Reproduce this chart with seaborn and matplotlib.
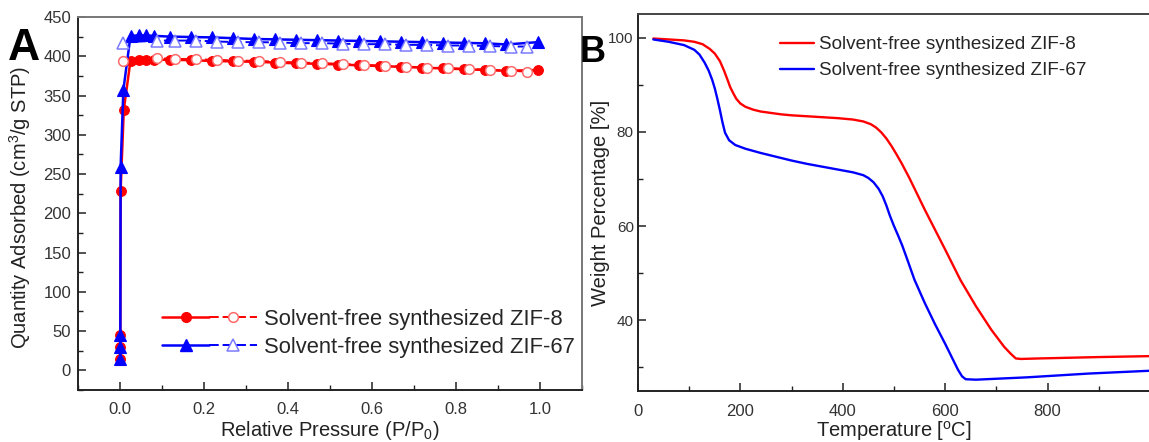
import numpy as np
import pandas as pd
import matplotlib
matplotlib.use("Agg")
import matplotlib.pyplot as plt
from matplotlib.lines import Line2D
from matplotlib.legend_handler import HandlerTuple
from matplotlib.ticker import MultipleLocator, FixedLocator
import seaborn as sns

# ---------------- N2 isotherms (panel A) ----------------
zif8_ads_p = [0.0004, 0.0006, 0.0008, 0.0015, 0.009, 0.025, 0.045, 0.063, 0.08, 0.12, 0.17,
              0.22, 0.27, 0.32, 0.37, 0.42, 0.47, 0.52, 0.57, 0.62, 0.67, 0.72, 0.77, 0.82,
              0.87, 0.92, 0.995]
zif8_ads_q = [15, 30, 45, 229, 332, 394.5, 395, 395, 395.5, 395.5, 395,
              394, 393.5, 393, 392, 391, 390.5, 389.5, 388.5, 387.5, 386.5, 385.5, 384.5, 383.5,
              382.5, 381.5, 382.5]
zif8_des_p = [0.97, 0.93, 0.88, 0.83, 0.78, 0.73, 0.68, 0.63, 0.58, 0.53, 0.48, 0.43, 0.38,
              0.33, 0.28, 0.23, 0.18, 0.13, 0.087, 0.006]
zif8_des_q = [380.5, 381.4, 382.7, 383.9, 384.8, 385.6, 386.9, 388.1, 389.0, 390.3, 391.2, 392.0,
              392.9, 394.1, 394.6, 395.4, 396.2, 396.7, 397.5, 394.5]

zif67_ads_p = [0.0004, 0.0006, 0.0008, 0.0015, 0.008, 0.025, 0.045, 0.063, 0.08, 0.12, 0.17,
               0.22, 0.27, 0.32, 0.37, 0.42, 0.47, 0.52, 0.57, 0.62, 0.67, 0.72, 0.77, 0.82,
               0.87, 0.92, 0.995]
zif67_ads_q = [15, 30, 45, 259, 357, 426, 426.5, 426.5, 426, 425, 424.5,
               424, 423, 422, 421.5, 421, 420.5, 420, 419.5, 419, 418.5, 418, 417.5, 417,
               416.5, 415, 418]
zif67_des_p = [0.97, 0.93, 0.88, 0.83, 0.78, 0.73, 0.68, 0.63, 0.58, 0.53, 0.48, 0.43, 0.38,
               0.33, 0.28, 0.23, 0.18, 0.13, 0.087, 0.006]
zif67_des_q = [412.4, 412.4, 413.0, 413.7, 413.7, 414.5, 414.5, 415.4, 415.4, 416.0, 416.7, 416.7,
               417.5, 418.0, 418.0, 418.8, 420.0, 420.0, 420.0, 417.5]

# ---------------- TGA (panel B) ----------------
zif8_tga_t = [30, 60, 90, 110, 126, 140, 150, 160, 168, 175, 180, 186, 192, 200, 210, 225, 240,
              260, 280, 300, 330, 360, 390, 420, 440, 455, 465, 475, 485, 495, 505, 515, 530,
              560, 600, 630, 660, 690, 715, 728, 738, 748, 780, 820, 860, 900, 950, 1000]
zif8_tga_w = [99.8, 99.6, 99.4, 99.1, 98.6, 97.6, 96.6, 95.0, 93.0, 91.0, 89.5, 88.2, 87.0, 86.0,
              85.3, 84.7, 84.3, 84.0, 83.7, 83.5, 83.3, 83.1, 82.9, 82.6, 82.2, 81.6, 80.9, 79.9,
              78.6, 77.0, 75.2, 73.3, 70.2, 63.5, 55.0, 48.5, 43.0, 38.0, 34.4, 32.9, 31.9, 31.8,
              31.9, 32.0, 32.1, 32.2, 32.3, 32.4]
zif67_tga_t = [30, 60, 90, 110, 120, 130, 138, 145, 150, 155, 160, 165, 170, 178, 190, 210, 240,
               270, 300, 330, 360, 390, 420, 440, 450, 460, 470, 478, 485, 492, 500, 508, 516,
               525, 540, 560, 580, 600, 615, 625, 633, 640, 660, 700, 760, 820, 880, 940, 1000]
zif67_tga_w = [99.6, 99.1, 98.4, 97.4, 96.4, 94.7, 93.0, 91.0, 89.2, 87.0, 84.6, 82.0, 79.8, 78.2,
               77.2, 76.4, 75.5, 74.7, 73.9, 73.2, 72.6, 72.0, 71.4, 70.8, 70.2, 69.3, 67.9, 66.3,
               64.4, 62.2, 60.0, 58.0, 55.9, 53.2, 48.6, 43.7, 39.2, 35.0, 31.7, 29.5, 28.1, 27.5,
               27.4, 27.6, 27.9, 28.3, 28.7, 29.0, 29.3]

labels = ["Solvent-free synthesized ZIF-8", "Solvent-free synthesized ZIF-67"]
RED, BLUE = "#ff0000", "#0000ff"
RED_OPEN, BLUE_OPEN = "#ff6a6a", "#7a7aff"

sns.set_theme(style="ticks")
plt.rcParams["font.family"] = ["Liberation Sans", "DejaVu Sans"]
plt.rcParams["mathtext.fontset"] = "custom"
plt.rcParams["mathtext.rm"] = "Liberation Sans"
plt.rcParams["mathtext.it"] = "Liberation Sans:italic"

W, H = 1149, 442
fig = plt.figure(figsize=(W / 100, H / 100), dpi=100)
axA = fig.add_axes([78 / W, 1 - 390 / H, (582 - 78) / W, (390 - 17) / H])
axB = fig.add_axes([638 / W, 1 - 391 / H, (1150 - 638) / W, (391 - 14) / H])

TICK_FS = 12
LABEL_FS = 14.5


def style_axes(ax, spine_dark="#222222", spine_light="#777777", light_sides=("top", "right"),
               ypad=5, ysize=TICK_FS):
    for side, sp in ax.spines.items():
        sp.set_linewidth(1.4)
        sp.set_color(spine_light if side in light_sides else spine_dark)
    ax.tick_params(which="both", direction="in", top=False, right=False,
                   labelsize=TICK_FS, colors="#222222", labelcolor="#333333")
    ax.tick_params(which="major", length=6, width=1.1)
    ax.tick_params(which="minor", length=3.5, width=1.0)
    ax.tick_params(axis="x", which="major", pad=9)
    ax.tick_params(axis="y", which="major", pad=ypad, labelsize=ysize)


# ---------- Panel A ----------
def draw_iso(ax, ads_p, ads_q, des_p, des_q, color, open_edge, marker, ms):
    ads = pd.DataFrame({"p": ads_p, "q": ads_q})
    des = pd.DataFrame({"p": des_p, "q": des_q})
    sns.lineplot(data=ads, x="p", y="q", sort=False, estimator=None, ax=ax, color=color,
                 linewidth=1.8, marker=marker, markersize=ms, markerfacecolor=color,
                 markeredgecolor=color, markeredgewidth=0.8, zorder=3)
    sns.lineplot(data=des, x="p", y="q", sort=False, estimator=None, ax=ax, color=color,
                 linewidth=1.4, linestyle=(0, (5, 2)), marker=marker, markersize=ms,
                 markerfacecolor="white", markeredgecolor=open_edge, markeredgewidth=1.1,
                 zorder=4)


draw_iso(axA, zif8_ads_p, zif8_ads_q, zif8_des_p, zif8_des_q, RED, RED_OPEN, "o", 7)
draw_iso(axA, zif67_ads_p, zif67_ads_q, zif67_des_p, zif67_des_q, BLUE, BLUE_OPEN, "^", 8)

axA.set_xlim(-0.1, 1.1)
axA.set_ylim(-25, 450)
axA.xaxis.set_major_locator(FixedLocator([0.0, 0.2, 0.4, 0.6, 0.8, 1.0]))
axA.xaxis.set_minor_locator(MultipleLocator(0.1))
axA.yaxis.set_major_locator(MultipleLocator(50))
axA.yaxis.set_minor_locator(MultipleLocator(25))
axA.set_xticklabels(["0.0", "0.2", "0.4", "0.6", "0.8", "1.0"])
axA.set_xlabel("Relative Pressure (P/P$_0$)", fontsize=LABEL_FS, color="#222222")
axA.set_ylabel("Quantity Adsorbed (cm$^3$/g STP)", fontsize=LABEL_FS, color="#222222")
axA.xaxis.set_label_coords(0.5, -0.108)
axA.yaxis.set_label_coords(-0.115, 0.49)
axA.xaxis.label.set_va("center")
axA.yaxis.label.set_va("center")
style_axes(axA, ypad=5)

handles_A = [
    (Line2D([], [], color=RED, lw=1.8, marker="o", ms=7, mfc=RED, mec=RED),
     Line2D([], [], color=RED, lw=1.4, ls=(0, (5, 2)), marker="o", ms=7, mfc="white",
            mec=RED_OPEN, mew=1.1)),
    (Line2D([], [], color=BLUE, lw=1.8, marker="^", ms=8, mfc=BLUE, mec=BLUE),
     Line2D([], [], color=BLUE, lw=1.4, ls=(0, (5, 2)), marker="^", ms=8, mfc="white",
            mec=BLUE_OPEN, mew=1.1)),
]
axA.legend(handles_A, labels, handler_map={tuple: HandlerTuple(ndivide=None, pad=0.0)},
           loc="center left", bbox_to_anchor=(0.167, 0.152), frameon=False,
           fontsize=15.8, handlelength=4.3, handletextpad=0.35, labelspacing=0.3,
           borderpad=0, borderaxespad=0)

# ---------- Panel B ----------
tga = pd.concat([
    pd.DataFrame({"T": zif8_tga_t, "W": zif8_tga_w, "sample": labels[0]}),
    pd.DataFrame({"T": zif67_tga_t, "W": zif67_tga_w, "sample": labels[1]}),
])
sns.lineplot(data=tga, x="T", y="W", hue="sample", palette=[RED, BLUE], sort=False,
             estimator=None, linewidth=1.7, ax=axB, legend=False)
axB.set_xlim(0, 1000)
axB.set_ylim(25, 105)
axB.xaxis.set_major_locator(FixedLocator([0, 200, 400, 600, 800]))
axB.xaxis.set_minor_locator(FixedLocator([100, 300, 500, 700, 900]))
axB.yaxis.set_major_locator(MultipleLocator(20))
axB.yaxis.set_minor_locator(MultipleLocator(10))
axB.set_xlabel("Temperature [$^{\\rm o}$C]", fontsize=LABEL_FS, color="#222222")
axB.set_ylabel("Weight Percentage [%]", fontsize=LABEL_FS, color="#222222")
axB.xaxis.set_label_coords(0.5, -0.107)
axB.yaxis.set_label_coords(-0.074, 0.5)
axB.xaxis.label.set_va("center")
axB.yaxis.label.set_va("center")
style_axes(axB, spine_light="#444444", ypad=3, ysize=11)

handles_B = [Line2D([], [], color=RED, lw=1.7), Line2D([], [], color=BLUE, lw=1.7)]
axB.legend(handles_B, labels, loc="center left", bbox_to_anchor=(0.277, 0.884),
           frameon=False, fontsize=13.6, handlelength=1.8, handletextpad=0.28,
           labelspacing=0.45, borderpad=0, borderaxespad=0)

# panel letters
fig.text(8 / W, 1 - 60 / H, "A", fontsize=32, fontweight="bold", color="black",
         ha="left", va="baseline")
fig.text(580 / W, 1 - 62 / H, "B", fontsize=26, fontweight="bold", color="black",
         ha="left", va="baseline")

fig.savefig("out.png", dpi=100)
